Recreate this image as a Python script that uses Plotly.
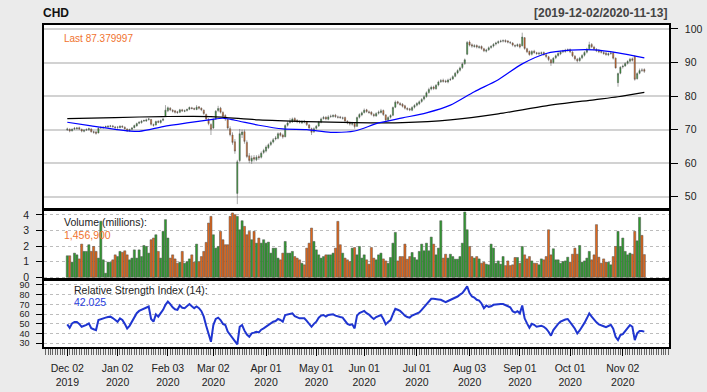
import pandas as pd
import plotly.graph_objects as go

# ---------------- data ----------------
symbol = "CHD"
holidays = ["2019-12-25", "2020-01-01", "2020-01-20", "2020-02-17", "2020-04-10",
            "2020-05-25", "2020-07-03", "2020-09-07"]
dates = [d for d in pd.bdate_range("2019-12-02", "2020-11-13")
         if d.strftime("%Y-%m-%d") not in holidays]

open_px = [
    70.0,70.1,69.7,70.2,70.3,70.6,70.1,69.5,69.9,70.0,70.2,69.4,69.3,69.0,70.5,70.5,70.8,70.8,71.0,71.1,70.8,
    70.7,70.6,71.0,70.7,70.2,69.7,70.1,70.6,71.1,71.9,72.1,72.6,72.6,73.0,73.0,71.5,71.4,72.5,72.1,72.8,74.0,
    75.6,76.4,75.8,75.6,75.3,75.2,75.9,75.5,75.7,76.1,76.5,76.3,76.0,76.8,76.4,75.8,74.5,73.1,71.5,
    70.5,73.2,75.7,76.4,75.1,74.2,73.0,70.3,68.4,66.4,51.0,60.8,68.5,69.4,66.2,62.2,60.6,61.7,61.0,62.0,61.8,63.2,
    63.6,64.6,65.6,66.3,67.2,67.4,68.9,68.4,67.9,71.3,72.1,72.3,73.3,72.8,72.4,72.0,72.5,72.3,71.4,70.3,69.4,
    70.4,71.1,72.2,73.3,73.7,73.1,73.9,73.9,74.3,73.8,73.8,73.4,73.6,72.5,72.1,71.6,71.8,71.0,73.7,74.4,
    75.1,75.9,75.3,75.2,74.5,74.1,74.9,75.1,75.7,74.4,72.8,73.7,74.3,76.7,78.3,77.8,77.6,77.1,76.3,76.2,75.8,76.7,
    77.3,77.7,78.4,79.1,79.9,81.1,82.1,82.7,82.2,83.3,84.3,84.7,84.5,84.2,84.9,85.1,85.9,86.9,87.7,88.5,89.7,92.5,
    96.1,95.3,94.8,95.1,94.5,94.8,94.1,93.4,93.8,94.5,94.9,95.5,95.9,96.3,96.4,96.6,96.4,96.0,95.8,95.1,95.0,
    95.4,95.0,97.4,94.1,93.3,92.5,93.4,92.9,92.6,92.7,93.0,92.3,91.7,90.8,90.0,91.4,92.1,92.6,93.2,93.3,93.6,
    93.9,93.1,91.9,91.0,90.6,91.4,92.2,93.1,94.1,95.4,94.6,93.9,93.6,93.3,93.0,92.8,92.3,92.7,92.9,91.3,84.0,86.8,
    88.7,89.0,89.8,90.4,91.1,91.8,85.2,86.8,87.8,87.9,
]
high_px = [
    70.6,70.4,70.4,70.8,70.8,70.9,70.3,70.1,70.4,70.6,70.4,69.7,69.6,70.7,71.0,71.0,71.2,71.3,71.4,71.4,71.1,
    71.1,71.3,71.3,71.0,70.4,70.3,70.8,71.5,72.1,72.5,72.9,73.0,73.3,73.5,73.2,71.8,72.7,72.8,73.0,73.5,77.3,
    76.9,76.7,76.1,75.9,75.6,76.2,76.2,76.0,76.3,76.9,76.8,76.6,77.3,77.0,76.6,76.0,74.8,73.4,71.9,
    73.4,75.8,77.1,76.8,75.5,74.6,73.4,71.0,69.2,67.2,61.0,70.2,70.0,70.0,66.8,63.0,62.3,62.4,62.4,62.6,63.5,64.3,
    65.3,65.9,66.7,67.5,68.1,69.2,69.3,68.8,71.6,72.5,73.4,73.6,73.7,73.1,72.8,72.8,72.9,72.6,71.7,70.6,70.7,
    71.4,72.6,73.6,74.1,74.0,74.3,74.5,74.6,74.7,74.2,74.1,73.9,73.9,72.8,72.4,72.3,72.0,73.9,74.9,75.4,
    76.3,76.2,75.7,75.5,74.9,75.2,75.7,76.2,76.0,74.6,74.0,74.6,76.9,78.7,78.6,78.2,77.9,77.4,76.7,76.5,77.0,77.6,
    78.2,78.7,79.4,80.2,81.4,82.5,83.1,83.1,83.6,84.6,85.1,85.2,84.9,85.2,85.5,86.2,87.2,88.0,88.8,90.0,91.2,96.4,
    96.6,95.7,95.5,95.4,95.1,95.1,94.4,94.1,94.8,95.2,95.8,96.2,96.6,96.8,96.9,96.9,96.7,96.4,96.1,95.4,95.7,
    95.7,98.9,97.6,94.4,93.6,93.7,93.8,93.2,93.2,93.3,93.3,92.6,92.0,91.1,91.6,92.4,93.1,93.5,93.8,94.1,94.2,
    94.2,93.4,92.2,91.4,91.7,92.5,93.4,94.4,96.2,95.8,95.0,94.3,94.0,93.7,93.4,93.2,93.0,93.2,93.2,91.5,87.0,88.9,
    89.4,90.1,90.7,91.4,91.5,92.2,87.1,88.2,88.3,88.3,
]
low_px = [
    69.6,69.2,69.4,69.9,70.0,69.9,69.2,69.2,69.6,69.7,69.1,68.8,68.5,68.9,70.2,70.3,70.5,70.6,70.7,70.6,70.3,
    70.2,70.4,70.5,70.0,69.3,69.4,69.8,70.4,70.9,71.6,71.8,72.3,72.3,72.7,71.2,70.9,71.2,71.9,71.8,72.5,73.8,
    75.2,75.5,75.1,74.8,74.7,74.9,75.3,75.2,75.4,75.8,76.0,75.8,75.8,76.0,75.5,74.4,72.8,71.3,68.4,
    70.2,72.9,75.2,74.8,73.5,72.6,70.0,68.0,65.5,62.8,47.8,60.3,67.5,65.8,61.5,60.0,59.8,60.5,60.6,61.0,61.4,62.7,
    63.2,64.2,65.1,65.9,66.8,67.1,67.9,67.3,67.7,70.9,71.8,72.0,72.2,71.9,71.8,71.7,71.9,71.1,70.1,68.4,69.0,
    70.0,70.8,71.9,73.0,72.8,72.8,73.5,73.6,73.5,73.3,73.2,73.0,72.2,71.6,71.2,71.2,70.3,70.8,73.3,74.0,
    74.8,75.0,74.7,74.2,73.7,73.8,74.5,74.8,74.1,72.4,72.5,73.3,74.0,76.4,77.5,77.1,76.6,76.0,75.7,75.5,75.5,76.3,
    76.9,77.3,78.0,78.7,79.5,80.7,81.7,81.8,81.9,82.9,83.9,84.0,83.9,83.8,84.5,84.8,85.6,86.5,87.3,88.1,89.3,92.2,
    94.8,94.4,94.4,94.2,94.1,93.8,93.1,93.0,93.5,94.1,94.5,95.1,95.5,95.9,96.0,95.9,95.7,95.5,94.8,94.5,94.6,
    94.2,94.8,93.8,92.8,92.0,92.1,92.6,92.3,92.2,92.3,92.0,91.3,90.4,89.0,89.7,91.0,91.7,92.2,92.8,92.9,93.2,
    92.8,91.6,90.6,90.0,90.2,91.0,91.8,92.7,93.8,94.3,93.6,93.1,92.8,92.7,92.3,92.0,91.9,92.3,90.9,88.2,82.8,86.5,
    88.2,88.7,89.4,90.0,90.3,84.6,84.9,86.5,87.2,86.9,
]
close_px = [
    70.2,69.6,70.1,70.4,70.5,70.2,69.6,69.8,70.0,70.3,69.4,69.2,68.9,70.4,70.6,70.7,70.9,71.0,71.1,70.9,70.6,
    70.7,71.0,70.8,70.3,69.6,70.0,70.5,71.2,71.8,72.2,72.5,72.7,72.9,73.2,71.6,71.3,72.4,72.2,72.7,73.1,75.8,
    76.5,75.9,75.5,75.2,75.1,75.9,75.6,75.6,76.0,76.6,76.3,76.1,76.7,76.4,75.9,74.8,73.2,71.8,70.1,
    73.0,75.5,76.3,75.2,74.0,73.2,70.5,68.5,66.2,63.6,60.4,68.8,69.3,66.5,62.0,60.8,61.5,61.2,61.8,61.6,63.0,63.8,
    64.8,65.5,66.2,67.0,67.5,68.8,68.3,67.8,71.2,72.0,72.5,73.2,72.6,72.3,72.2,72.4,72.3,71.5,70.5,69.2,70.3,
    71.0,72.3,73.2,73.6,73.2,73.8,74.0,74.2,73.9,73.7,73.6,73.5,72.6,72.0,71.7,71.9,70.9,73.6,74.5,75.0,
    75.8,75.4,75.1,74.6,74.2,74.8,75.2,75.6,74.5,72.9,73.6,74.2,76.6,78.2,77.9,77.5,77.0,76.4,76.1,75.9,76.6,77.2,
    77.8,78.3,79.0,79.8,81.0,82.0,82.6,82.3,83.2,84.2,84.6,84.4,84.3,84.8,85.0,85.8,86.8,87.6,88.4,89.6,90.8,96.0,
    95.2,94.9,95.0,94.6,94.7,94.2,93.5,93.7,94.4,94.8,95.4,95.8,96.2,96.4,96.5,96.3,96.1,95.9,95.2,94.9,95.3,
    94.6,97.6,94.2,93.2,92.4,93.3,93.0,92.7,92.8,92.9,92.4,91.8,90.9,89.9,91.3,92.0,92.7,93.1,93.4,93.7,93.8,
    93.2,92.0,91.1,90.5,91.3,92.1,93.0,94.0,95.3,94.7,94.0,93.5,93.2,93.1,92.7,92.4,92.6,92.8,91.3,88.4,86.7,88.6,
    88.9,89.7,90.3,91.0,90.7,85.0,86.7,87.6,87.7,87.379997,
]
volume_m = [
    1.38,1.38,0.97,1.55,1.44,1.18,2.13,1.66,1.66,2.09,1.66,1.98,1.66,1.23,3.6,1.12,0.26,0.97,0.97,1.12,
    1.44,1.33,1.66,1.6,1.7,1.44,1.12,1.23,1.76,1.23,1.76,1.33,2.04,1.98,1.55,2.41,2.52,2.73,1.66,1.23,
    2.95,3.7,2.52,1.23,1.44,1.18,0.9,0.97,1.66,0.9,1.01,1.18,1.44,0.97,2.13,1.01,1.33,
    1.66,2.24,3.48,3.91,2.73,1.87,1.98,2.95,2.41,2.09,2.09,3.91,4.13,4.02,3.91,3.05,3.63,3.27,2.73,2.95,
    2.41,2.95,2.19,2.52,2.19,2.41,2.19,2.26,1.55,1.87,1.87,1.23,1.12,1.55,2.3,1.55,1.55,1.66,
    1.33,1.23,1.12,0.9,0.8,1.87,2.19,3.16,2.3,1.76,1.44,1.23,1.33,1.44,1.44,1.44,1.55,1.87,3.59,2.09,
    1.55,1.23,1.12,1.01,1.87,1.91,1.44,
    1.98,1.23,1.44,1.12,0.84,1.91,1.23,1.12,1.44,1.55,1.18,1.05,0.9,1.27,2.19,2.88,1.05,1.33,1.33,2.13,
    1.16,1.33,1.59,1.27,1.12,1.66,2.13,1.7,2.19,1.7,2.58,2.13,1.44,1.87,3.63,1.23,1.48,1.23,
    1.48,1.33,1.16,1.16,1.33,2.19,4.19,3.05,1.98,1.33,1.23,1.33,1.18,0.9,0.97,0.84,0.8,2.13,1.87,0.9,
    1.05,0.84,1.33,0.75,1.05,0.75,0.8,1.27,1.27,0.9,1.98,1.44,1.18,1.33,1.05,0.9,0.9,0.8,
    1.18,1.12,1.33,3.05,1.44,1.83,1.12,1.12,0.9,1.01,1.05,1.29,0.97,1.48,1.87,1.48,2.04,0.97,1.05,1.23,
    1.66,1.12,1.44,3.38,1.29,0.9,1.18,0.97,0.97,0.8,1.33,1.98,2.95,1.98,2.52,1.66,1.44,1.55,
    1.48,2.95,2.34,3.85,2.69,1.4569,
]
rsi14 = [
    49.5,46,50.5,52,52,50,47,47.7,49,50.5,45.5,44.5,43.6,53.9,55,55.5,56.4,57,57.4,56,54,
    52.2,55.7,54,50,45.3,48,52.2,57,61,63.3,64.4,65.5,66.5,67.8,55,52.2,59.8,57.4,61,64.4,69.6,
    73,70.3,67,65,64.4,68.9,66.5,66.1,67.8,70.3,68,66.1,67.8,66.1,63,57.4,48,40,31.6,
    48.8,55,56.4,53.9,50,48.8,42,38.5,35.5,31.6,28.9,47,48.8,43,39,36.7,40.2,41,41.9,41.2,44,45.3,
    47,49.5,50.5,52.2,52.9,55,54,52.2,59.1,59.5,59.8,60.8,58,56.5,55.7,55.7,55.7,53,50.5,47,50,
    52.2,56.4,58.5,59.1,57.4,59.1,59.5,59.8,58.4,57.4,57,56.4,52.5,50,48.8,49.5,45.3,58.4,61,62,
    63.3,61,59.5,57,55,57,58,59.1,55,49.5,52,53.9,60,65.4,64.5,63.3,61,58.4,57,56.4,58.5,59.8,
    61,61.8,64.4,67,69.6,73,75.7,75.7,75.7,75,74.7,73.5,72.3,73.5,74.7,75.5,76.5,78.1,80,81.6,85,88.5,
    81.6,78.1,77.1,74.7,74,71,66.1,68.9,67.5,68,69.6,70,70.3,70.3,70.3,69,67.8,67,63,61.5,63,
    60.8,68.9,55.7,50.5,46,50,49,47,47.5,48.1,47,45,41.9,37.8,43.6,47,50,52.2,53.5,54.5,55,
    52.2,48.5,45,40.2,43.2,46.5,51,55.7,60.8,57.4,54,51.5,49.5,48.8,47.5,46.5,48.1,49,45,36.7,33.3,38.5,
    39.5,43,45.3,48.8,47,33.3,40.2,42.6,42.6,42.025,
]
# moving averages at selected bars
sma50_bar = [0,10,20,30,40,50,60,65,70,80,90,100,110,120,130,140,150,160,170,180,190,200,210,220,230,241]
sma50 = [72.2,71.1,70.1,69.5,70.9,72.0,73.0,73.4,72.8,71.3,70.2,70.0,69.2,69.6,72.0,73.5,75.0,77.3,
         81.3,84.9,89.6,92.7,93.7,93.8,92.9,91.4]
sma200_bar = [0,20,40,60,80,100,120,140,160,180,200,220,230,241]
sma200 = [73.3,73.6,73.9,73.9,72.9,72.4,72.1,72.1,72.9,74.7,77.1,78.9,79.8,81.1]

price_ticks = [50, 60, 70, 80, 90, 100]
volume_ticks = [0, 1, 2, 3, 4]
rsi_ticks = [30, 40, 50, 60, 70, 80, 90]

# ---------------- styling ----------------
FONT = "Liberation Sans, Arial, Helvetica, sans-serif"
UP = "#2f9a2f"
DN = "#e0661a"
EDGE = "#505050"
BG = "#ebebeb"

bar = list(range(len(dates)))
up_flags = [c >= o for o, c in zip(open_px, close_px)]
vol_colors = [UP if u else DN for u in up_flags]

tick_bars = [i for i in bar if i == 0 or dates[i].month != dates[i - 1].month]
tick_text = [dates[i].strftime("%b %d") + "<br>" + dates[i].strftime("%Y") for i in tick_bars]

fig = go.Figure()
fig.add_trace(go.Candlestick(
    x=bar, open=open_px, high=high_px, low=low_px, close=close_px,
    xaxis="x", yaxis="y", whiskerwidth=0,
    increasing=dict(line=dict(color=EDGE, width=0.5), fillcolor=UP),
    decreasing=dict(line=dict(color=EDGE, width=0.5), fillcolor=DN),
    showlegend=False, hoverinfo="skip"))
fig.add_trace(go.Scatter(x=sma200_bar, y=sma200, mode="lines", xaxis="x", yaxis="y",
                         line=dict(color="black", width=1.2, shape="spline", smoothing=0.8),
                         showlegend=False, hoverinfo="skip"))
fig.add_trace(go.Scatter(x=sma50_bar, y=sma50, mode="lines", xaxis="x", yaxis="y",
                         line=dict(color="#0000ff", width=1.2, shape="spline", smoothing=0.8),
                         showlegend=False, hoverinfo="skip"))
fig.add_trace(go.Bar(x=bar, y=volume_m, xaxis="x2", yaxis="y2",
                     marker=dict(color=vol_colors, line=dict(color=EDGE, width=0.5)),
                     showlegend=False, hoverinfo="skip"))
fig.add_trace(go.Scatter(x=bar, y=rsi14, mode="lines", xaxis="x3", yaxis="y3",
                         line=dict(color="#1f35d0", width=2),
                         showlegend=False, hoverinfo="skip"))

n = len(bar)
xr = [-9.73, n - 1 + 10.3]
frame = dict(showline=True, mirror=True, linecolor="black", linewidth=1.5, zeroline=False,
             automargin=False)
tickfont = dict(family=FONT, size=10.5, color="#222222")
small_tickfont = dict(family=FONT, size=9, color="#222222")

fig.update_layout(
    width=707, height=392,
    margin=dict(l=44, r=38, t=25, b=45, autoexpand=False),
    paper_bgcolor=BG, plot_bgcolor="white",
    font=dict(family=FONT, size=10.5, color="#222222"),
    bargap=0.12, showlegend=False,
    xaxis=dict(domain=[0, 1], anchor="y", range=xr, showticklabels=False, ticks="",
               showgrid=False, rangeslider=dict(visible=False), **frame),
    xaxis2=dict(domain=[0, 1], anchor="y2", range=xr, showticklabels=False, ticks="",
                showgrid=False, **frame),
    xaxis3=dict(domain=[0, 1], anchor="y3", range=xr, showgrid=False,
                tickmode="array", tickvals=tick_bars, ticktext=tick_text,
                ticks="outside", ticklen=7, tickwidth=1.2, tickcolor="black",
                ticklabelstandoff=4, tickfont=tickfont,
                minor=dict(tickmode="linear", tick0=0, dtick=1, ticks="outside",
                           ticklen=6, tickwidth=0.8, tickcolor="#666666", showgrid=False),
                **frame),
    yaxis=dict(domain=[0.4286, 1.0], anchor="x", side="right", range=[46.35, 101.19],
               tickmode="array", tickvals=price_ticks, ticks="outside", ticklen=7,
               tickcolor="black", ticklabelstandoff=5, tickfont=tickfont,
               showgrid=True, gridcolor="#d2d2d2", gridwidth=1.5, **frame),
    yaxis2=dict(domain=[0.2112, 0.4255], anchor="x2", side="left", range=[-0.11, 4.32],
                tickmode="array", tickvals=volume_ticks, ticks="outside", ticklen=6,
                tickcolor="black", ticklabelstandoff=5, tickfont=tickfont,
                showgrid=True, gridcolor="#bdbdbd", gridwidth=1, griddash="dot", **frame),
    yaxis3=dict(domain=[0.0, 0.2081], anchor="x3", side="left", range=[26.2, 95.1],
                tickmode="array", tickvals=rsi_ticks, ticks="outside", ticklen=6,
                tickcolor="black", ticklabelstandoff=5, tickfont=small_tickfont,
                showgrid=True, gridcolor="#bdbdbd", gridwidth=1, griddash="dot", **frame),
)

def px_x(p):
    return (p - 44) / 625.0

def px_y(p):
    return (347 - p) / 322.0

ann = [
    dict(text="<b>%s</b>" % symbol, x=px_x(41), y=px_y(13), xanchor="left",
         font=dict(size=12, color="#111111")),
    dict(text="<b>[%s/%s]</b>" % (dates[0].strftime("%Y-%m-%d"), dates[-1].strftime("%Y-%m-%d")),
         x=px_x(669), y=px_y(13), xanchor="right", font=dict(size=12, color="#444444")),
    dict(text="Last %.6f" % close_px[-1], x=px_x(62), y=px_y(38), xanchor="left",
         font=dict(size=10, color="#f07330")),
    dict(text="Volume (millions):", x=px_x(62), y=px_y(222), xanchor="left",
         font=dict(size=10.5, color="#222222")),
    dict(text="{:,}".format(int(round(volume_m[-1] * 1e6))), x=px_x(62), y=px_y(235),
         xanchor="left", font=dict(size=10.5, color="#f07330")),
    dict(text="Relative Strength Index (14):", x=px_x(72), y=px_y(290), xanchor="left",
         font=dict(size=10.5, color="#222222")),
    dict(text="%.3f" % rsi14[-1], x=px_x(72), y=px_y(302), xanchor="left",
         font=dict(size=10.5, color="#2a3ee0")),
]
for a in ann:
    a.update(xref="paper", yref="paper", yanchor="middle", showarrow=False)
    a["font"]["family"] = FONT
fig.update_layout(annotations=ann)

fig.write_html(
    "out.html",
    config={"displayModeBar": False},
    post_script="document.body.style.margin='0';document.body.style.padding='0';"
                "document.body.style.overflow='hidden';",
)
